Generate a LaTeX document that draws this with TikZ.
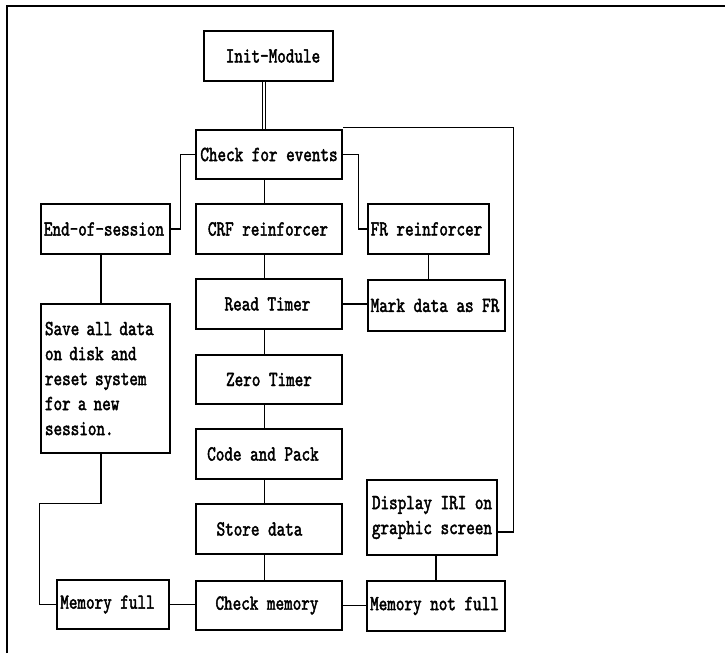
\documentclass[tikz,border=0pt]{standalone}
\usepackage{fontspec}
\newfontfamily\tw{lmmono10-regular.otf}[FakeStretch=0.76,FakeBold=2]
\begin{document}
\begin{tikzpicture}[x=1pt,y=-1pt,
  box/.style={draw,line width=1.2pt,inner sep=0pt,align=center,
    font=\tw\fontsize{21.5}{25}\selectfont},
  ln/.style={line width=1.2pt}]
\useasboundingbox (0,0) rectangle (725,653);
\draw[line width=1.2pt] (7,653) -- (7,6) -- (725,6);
\node[box,minimum width=129,minimum height=50] (init) at (268.5,56) {\hspace*{9pt}Init-Module};
\node[box,minimum width=146,minimum height=49] (check) at (269,154.5) {Check for events};
\node[box,minimum width=146,minimum height=50] (crf) at (269,229) {CRF reinforcer\hspace*{2pt}};
\node[box,minimum width=146,minimum height=50] (read) at (269,304) {Read Timer\hspace*{3pt}};
\node[box,minimum width=146,minimum height=49] (zero) at (269,379.5) {Zero Timer};
\node[box,minimum width=146,minimum height=50] (code) at (269,454) {Code and Pack\hspace*{12pt}};
\node[box,minimum width=146,minimum height=50] (store) at (269,529) {Store data\hspace*{19pt}};
\node[box,minimum width=146,minimum height=49] (checkmem) at (269,605.5) {Check memory\hspace*{4pt}};
\node[box,minimum width=129,minimum height=50] (eos) at (105.5,229) {End-of-session\hspace*{3pt}};
\node[box,minimum width=129,minimum height=149,align=left,text width=121] (save) at (105.5,378.5) {Save all data\\on disk and\\reset system\\for a new\\session.};
\node[box,minimum width=112,minimum height=49] (memfull) at (113,604.5) {Memory full\hspace*{11pt}};
\node[box,minimum width=121,minimum height=50] (fr) at (428.5,229) {FR reinforcer\hspace*{4pt}};
\node[box,minimum width=137,minimum height=51] (mark) at (436.5,305.5) {Mark data as FR\hspace*{3pt}};
\node[box,minimum width=130,minimum height=75] (display) at (432,517.5) {Display IRI on\\graphic screen};
\node[box,minimum width=138,minimum height=50] (notfull) at (436,606) {Memory not full\hspace*{3pt}};
% connectors
\draw[line width=1pt,double,double distance=1.6pt] ([xshift=-4.5pt]init.south) -- ([xshift=-4.5pt]init.south |- check.north);
\draw[ln] (check.west) -| ([xshift=10pt]eos.east) -- (eos.east);
\draw[ln] (check.east) -| ([xshift=-9pt]fr.west) -- (fr.west);
\draw[ln] ([xshift=-4.5pt]check.south) -- ([xshift=-4.5pt]check.south |- crf.north);
\draw[ln] ([xshift=-4.5pt]crf.south) -- ([xshift=-4.5pt]crf.south |- read.north);
\draw[ln] ([xshift=-4.5pt]read.south) -- ([xshift=-4.5pt]read.south |- zero.north);
\draw[ln] ([xshift=-4.5pt]zero.south) -- ([xshift=-4.5pt]zero.south |- code.north);
\draw[ln] ([xshift=-4.5pt]code.south) -- ([xshift=-4.5pt]code.south |- store.north);
\draw[ln] ([xshift=-4.5pt]store.south) -- ([xshift=-4.5pt]store.south |- checkmem.north);
\draw[ln] ([xshift=-4.5pt]eos.south) -- ([xshift=-4.5pt]eos.south |- save.north);
\draw[ln] (fr.south) -- (fr.south |- mark.north);
\draw[ln] (read.east) -- (read.east -| mark.west);
\draw[ln] ([xshift=-4.5pt]save.south) -- ++(0,50) -| ([xshift=-17pt]memfull.west) -- (memfull.west);
\draw[ln] (memfull.east) -- (memfull.east -| checkmem.west);
\draw[ln] (checkmem.east) -- (checkmem.east -| notfull.west);
\draw[ln] ([xshift=4pt]display.south) -- ([xshift=4pt]display.south |- notfull.north);
\draw[ln] ([yshift=-14.5pt]display.east) -| ([xshift=171pt,yshift=2pt]check.north east) -- ([yshift=2pt]check.north east);
\end{tikzpicture}
\end{document}
